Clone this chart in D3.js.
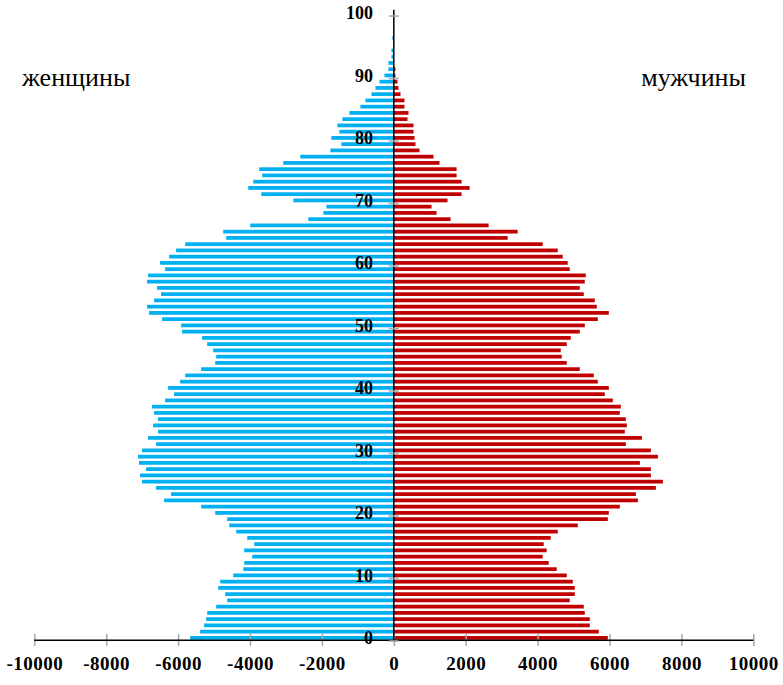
<!DOCTYPE html>
<html lang="ru">
<head>
    <meta charset="UTF-8">
    <title>Pyramid</title>
    <script src="https://d3js.org/d3.v7.min.js"></script>
    <style>
      body { margin: 0; background: #fff; }
      .lbl { font-family: "Liberation Serif", "Times New Roman", serif; }
    </style>
</head>
<body>
  <div class="graph_container"></div>

<script>
    // ages 0..100 (categories)
    var ages = [0,1,2,3,4,5,6,7,8,9,10,11,12,13,14,15,16,17,18,19,20,21,22,23,24,25,26,27,28,29,
                30,31,32,33,34,35,36,37,38,39,40,41,42,43,44,45,46,47,48,49,50,51,52,53,54,55,56,57,58,59,
                60,61,62,63,64,65,66,67,68,69,70,71,72,73,74,75,76,77,78,79,80,81,82,83,84,85,86,87,88,89,
                90,91,92,93,94,95,96,97,98,99,100]

    // women (drawn to the left, negative)
    var women = [-5665,-5386,-5275,-5219,-5191,-4941,-4634,-4690,-4885,-4829,
                 -4467,-4188,-4161,-3938,-4161,-3882,-4077,-4383,-4578,-4634,
                 -4969,-5359,-6389,-6194,-6612,-7002,-7058,-6891,-7086,-7114,
                 -7002,-6612,-6835,-6557,-6696,-6557,-6668,-6724,-6362,-6111,
                 -6278,-5944,-5804,-5359,-4969,-4941,-5024,-5191,-5331,-5888,
                 -5916,-6445,-6807,-6863,-6668,-6473,-6584,-6863,-6835,-6362,
                 -6501,-6250,-6055,-5804,-4662,-4746,-3993,-2377,-1960,-1876,
                 -2795,-3687,-4049,-3910,-3659,-3743,-3074,-2600,-1765,-1458,
                 -1737,-1514,-1570,-1430,-1235,-929,-789,-622,-511,-399,
                 -260,-149,-149,-65,-65,0,-40,0,0,0,0]

    // men (to the right)
    var men = [5953,5702,5451,5451,5312,5284,4894,5034,5034,4978,
               4811,4532,4309,4142,4253,4170,4365,4560,5117,5953,
               5981,6287,6789,6733,7290,7485,7151,7151,6845,7346,
               7151,6454,6900,6427,6482,6454,6287,6315,6092,5869,
               5981,5674,5563,5173,4811,4671,4644,4811,4922,5173,
               5312,5674,5981,5646,5591,5284,5173,5312,5340,4894,
               4838,4699,4560,4142,3167,3445,2638,1579,1189,1049,
               1495,1885,2108,1885,1746,1746,1272,1105,715,604,
               576,548,548,381,409,297,297,186,130,102,
               46,46,0,0,0,0,0,0,0,0,0]

    var xTicks = [-10000,-8000,-6000,-4000,-2000,0,2000,4000,6000,8000,10000]
    var ageTicks = [0,10,20,30,40,50,60,70,80,90,100]

    var w = 783
    var h = 685

    var svg = d3.select(".graph_container").append("svg").attr("width", w).attr("height", h)

    var xScale = d3.scaleLinear()
        .domain([-10000, 10000])
        .range([34.3, 753.3])

    var yScale = d3.scaleBand()
        .domain(ages)
        .range([641, 9.8])
        .paddingInner(0.4)
        .paddingOuter(0.2)

    var yPos = function(a) { return yScale(a) + yScale.bandwidth() / 2 }

    // bars - women
    svg.selectAll("rect.w")
        .data(ages)
        .enter()
        .append("rect")
        .attr("class", "w")
        .attr("x", function(d, i) { return xScale(women[i]) })
        .attr("y", function(d) { return yScale(d) })
        .attr("width", function(d, i) { return xScale(0) - xScale(women[i]) })
        .attr("height", yScale.bandwidth())
        .style("fill", "#00B0F0")

    // bars - men
    svg.selectAll("rect.m")
        .data(ages)
        .enter()
        .append("rect")
        .attr("class", "m")
        .attr("x", xScale(0))
        .attr("y", function(d) { return yScale(d) })
        .attr("width", function(d, i) { return xScale(men[i]) - xScale(0) })
        .attr("height", yScale.bandwidth())
        .style("fill", "#C00000")

    // x axis (plain hyphen for negatives, like the original)
    var xAxis = d3.axisBottom(xScale).tickValues(xTicks).tickSize(12).tickSizeOuter(0)
        .tickFormat(function(d) { return (d < 0 ? "-" : "") + Math.abs(d) })
    var gx = svg.append("g").attr("transform", "translate(0,634)").call(xAxis)
    gx.select(".domain").remove()
    gx.selectAll(".tick line").attr("stroke", "#a6a6a6").attr("stroke-width", 1.5)
    gx.selectAll(".tick text")
        .attr("class", "lbl")
        .attr("y", 23)
        .style("font-size", "19px")
        .style("font-weight", "bold")
        .style("letter-spacing", "0.5px")
        .style("fill", "#000")
    svg.append("line")
        .attr("x1", xScale(-10000)).attr("x2", xScale(10000))
        .attr("y1", 640.3).attr("y2", 640.3)
        .attr("stroke", "#000").attr("stroke-width", 1.5)

    // y axis (vertical line at zero)
    svg.append("line")
        .attr("x1", xScale(0)).attr("x2", xScale(0))
        .attr("y1", 9.8).attr("y2", 641)
        .attr("stroke", "#000").attr("stroke-width", 1.5)

    svg.selectAll("line.yt")
        .data(ageTicks)
        .enter()
        .append("line")
        .attr("class", "yt")
        .attr("x1", xScale(0) - 5).attr("x2", xScale(0) + 5)
        .attr("y1", function(d) { return yScale(d) + yScale.step() * 0.8 })
        .attr("y2", function(d) { return yScale(d) + yScale.step() * 0.8 })
        .attr("stroke", "#a6a6a6").attr("stroke-width", 1.5)

    svg.selectAll("text.yl")
        .data(ageTicks)
        .enter()
        .append("text")
        .attr("class", "lbl yl")
        .attr("x", 373)
        .attr("y", function(d) { return yPos(d) })
        .attr("dy", "0.35em")
        .attr("text-anchor", "end")
        .style("font-size", "18px")
        .style("font-weight", "bold")
        .text(function(d) { return d })

    // titles
    svg.append("text").attr("class", "lbl")
        .attr("x", 22).attr("y", 86)
        .style("font-size", "26px")
        .text("женщины")
    svg.append("text").attr("class", "lbl")
        .attr("x", 746).attr("y", 86)
        .attr("text-anchor", "end")
        .style("font-size", "26px")
        .text("мужчины")
</script>
</body>
</html>
